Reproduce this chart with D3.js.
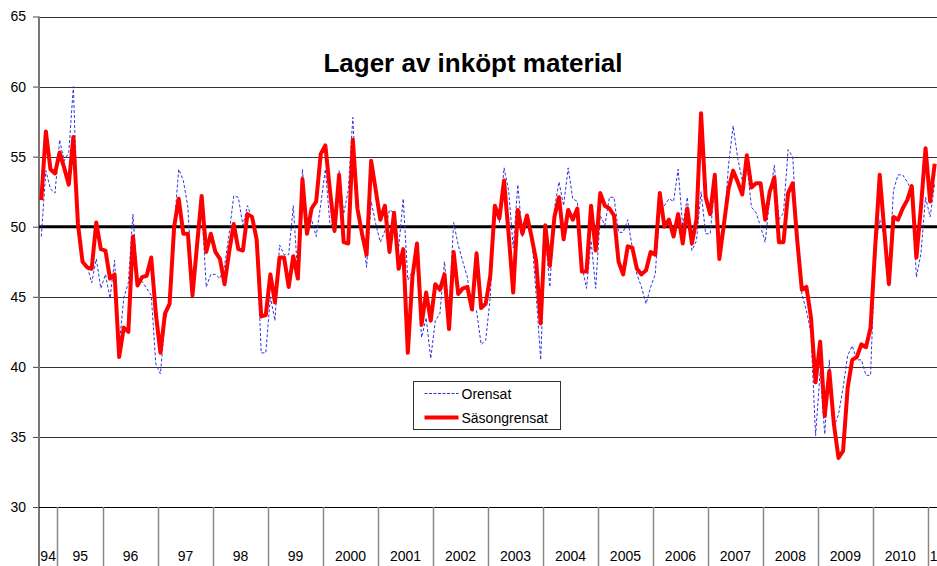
<!DOCTYPE html>
<html>
<head>
<meta charset="utf-8">
<script src="https://cdn.jsdelivr.net/npm/d3@7"></script>
<style>
  body { margin: 0; background: #fff; }
  svg { display: block; font-family: "Liberation Sans", Arial, sans-serif; }
</style>
</head>
<body>
<svg id="chart" width="937" height="566"></svg>
<script>
// year groups on the category axis (first and last are partial)
const yearLabels = ['94', '95', '96', '97', '98', '99', '2000', '2001', '2002', '2003',
    '2004', '2005', '2006', '2007', '2008', '2009', '2010', '1']
const yearMonths = [4, 10, 12, 12, 12, 12, 12, 12, 12, 12, 12, 12, 12, 12, 12, 12, 12, 2]

const yTicks = [30, 35, 40, 45, 50, 55, 60, 65]

// Orensat (unadjusted), monthly
const orensat = [
    49.3, 54.0, 52.7, 52.4, 56.2, 54.7, 55.3, 60.0, 50.0, 47.5, 47.2, 46.0, 47.7, 45.6,
    46.6, 44.9, 47.6, 41.5, 44.9, 46.0, 50.9, 46.2, 46.1, 45.6, 45.1, 40.2, 39.5, 43.3,
    44.5, 50.0, 54.1, 53.3, 51.4, 45.2, 48.0, 51.5, 45.7, 46.6, 46.6, 46.3, 47.2, 49.5,
    52.2, 52.1, 50.1, 51.5, 50.6, 49.0, 41.0, 41.0, 45.0, 43.3, 48.7, 48.0, 48.0, 51.5,
    46.4, 54.1, 49.9, 50.5, 49.3, 51.6, 54.1, 50.2, 50.0, 54.0, 50.9, 52.6, 57.8, 50.9,
    49.7, 47.1, 51.8, 50.2, 48.9, 49.7, 51.2, 51.0, 48.5, 52.0, 46.2, 46.8, 47.2, 42.1,
    43.5, 40.6, 43.3, 43.8, 47.5, 44.0, 50.3, 48.7, 47.5, 46.4, 44.0, 44.0, 41.6, 41.9,
    45.0, 51.4, 50.3, 54.2, 52.6, 48.5, 53.0, 49.3, 50.3, 49.5, 45.2, 40.5, 49.5, 45.7,
    51.3, 53.2, 51.5, 54.2, 52.0, 51.8, 47.2, 45.6, 49.0, 45.6, 50.8, 50.1, 52.1, 52.1,
    49.6, 49.6, 50.5, 48.5, 46.6, 45.7, 44.5, 45.7, 46.6, 51.3, 51.5, 52.0, 51.8, 54.1,
    50.0, 52.1, 48.3, 49.0, 52.5, 49.5, 49.5, 53.0, 49.3, 50.0, 54.4, 57.2, 54.9, 53.3,
    54.5, 51.4, 51.0, 50.0, 48.9, 52.1, 54.4, 50.5, 51.0, 55.5, 55.0, 49.5, 45.2, 44.0,
    42.4, 35.1, 39.7, 35.2, 40.5, 35.7, 36.6, 38.5, 40.8, 41.5, 40.5, 40.5, 39.4, 39.4,
    48.3, 50.5, 49.3, 46.8, 52.6, 53.7, 53.7, 53.2, 52.6, 46.4, 48.1, 52.1, 50.7, 53.1
]

// Säsongrensat (seasonally adjusted), monthly
const sasongrensat = [
    51.9, 56.8, 54.1, 53.8, 55.3, 54.2, 53.0, 56.4, 50.2, 47.5, 47.1, 47.0, 50.3, 48.4,
    48.3, 46.3, 46.6, 40.7, 42.8, 42.5, 49.3, 45.8, 46.4, 46.5, 47.8, 43.8, 41.0, 43.8,
    44.5, 50.0, 52.0, 49.5, 49.5, 45.1, 48.7, 52.2, 48.2, 49.5, 48.2, 47.7, 45.9, 48.2,
    50.2, 48.4, 48.3, 50.9, 50.7, 49.1, 43.6, 43.7, 46.6, 44.6, 47.8, 47.8, 45.7, 47.9,
    46.3, 53.4, 49.5, 51.3, 51.8, 55.2, 55.8, 52.6, 49.7, 53.7, 48.9, 48.8, 56.2, 51.3,
    49.5, 48.0, 54.7, 52.6, 50.5, 51.5, 48.2, 51.0, 47.0, 48.4, 41.0, 46.4, 48.8, 43.0,
    45.3, 43.3, 45.9, 45.5, 46.6, 42.7, 48.2, 45.2, 45.6, 45.7, 44.1, 48.1, 44.2, 44.5,
    46.5, 51.5, 50.6, 53.3, 49.5, 45.3, 51.2, 49.5, 50.8, 49.3, 47.6, 43.1, 50.1, 47.2,
    50.7, 52.1, 49.1, 51.2, 50.5, 51.3, 46.8, 46.8, 51.5, 48.3, 52.4, 51.5, 51.3, 50.8,
    47.5, 46.6, 48.6, 48.5, 47.0, 46.6, 46.9, 48.2, 48.0, 52.4, 50.0, 50.5, 49.3, 50.9,
    48.8, 51.3, 48.8, 50.5, 58.1, 52.1, 50.9, 53.7, 47.7, 50.2, 52.7, 54.0, 53.2, 52.3,
    55.1, 52.8, 53.1, 53.1, 50.5, 52.5, 53.5, 48.9, 48.9, 52.4, 53.1, 49.0, 45.5, 45.7,
    43.5, 38.9, 41.8, 36.5, 39.7, 35.9, 33.5, 34.0, 38.5, 40.5, 40.7, 41.6, 41.4, 42.8,
    48.5, 53.7, 49.7, 45.9, 50.7, 50.5, 51.3, 51.9, 52.9, 47.8, 51.4, 55.6, 51.8, 54.5
]

const width = 937,
    height = 566,
    margin = { top: 16.5, right: 0, bottom: 59, left: 39 }

// one category per month, grouped by year label
let months = []
yearLabels.forEach((y, k) => {
    for (let m = 0; m < yearMonths[k]; m++) months.push(y + '-' + m)
})

const svg = d3.select('#chart')

const x = d3.scaleBand()
    .domain(months)
    .range([margin.left, width - margin.right])
const xc = (i) => x(months[i]) + x.bandwidth() / 2

const y = d3.scaleLinear()
    .domain([30, 65])
    .range([height - margin.bottom, margin.top])

// gridlines
svg.append('g')
    .selectAll('line')
    .data(yTicks.filter(t => t !== 50 && t !== 30))
    .enter()
    .append('line')
    .attr('x1', margin.left)
    .attr('x2', width)
    .attr('y1', d => Math.round(y(d)) + 0.5)
    .attr('y2', d => Math.round(y(d)) + 0.5)
    .attr('stroke', '#333')
    .attr('stroke-width', 1)

// y axis
const yAxis = svg.append('g')
    .attr('transform', `translate(${margin.left},0)`)
    .call(d3.axisLeft(y).tickValues(yTicks).tickSize(6).tickPadding(7))
yAxis.select('.domain').remove()
yAxis.selectAll('.tick line').attr('stroke', '#444')
yAxis.selectAll('.tick text')
    .attr('font-family', '"Liberation Sans", Arial, sans-serif')
    .attr('font-size', 14)
    .attr('fill', '#000')

svg.append('line')
    .attr('x1', margin.left).attr('x2', margin.left)
    .attr('y1', margin.top).attr('y2', height)
    .attr('stroke', '#777')
    .attr('stroke-width', 2)

// x axis line and year group separators
svg.append('line')
    .attr('x1', margin.left).attr('x2', width)
    .attr('y1', Math.round(y(30)) + 0.5).attr('y2', Math.round(y(30)) + 0.5)
    .attr('stroke', '#000')

let start = 0
const groups = yearLabels.map((lab, k) => {
    const g = { label: lab, first: start, last: start + yearMonths[k] - 1 }
    start += yearMonths[k]
    return g
})

svg.append('g')
    .selectAll('line')
    .data(groups.slice(1))
    .enter()
    .append('line')
    .attr('x1', d => Math.round(x(months[d.first])) + 0.5)
    .attr('x2', d => Math.round(x(months[d.first])) + 0.5)
    .attr('y1', y(30))
    .attr('y2', height)
    .attr('stroke', '#888')
    .attr('stroke-width', 1.5)

svg.append('g')
    .selectAll('text')
    .data(groups)
    .enter()
    .append('text')
    .attr('x', d => {
        const x0 = x(months[d.first]), x1 = x(months[d.last]) + x.bandwidth()
        return d.label === '1' ? x0 + 2 : (x0 + x1) / 2
    })
    .attr('y', 561)
    .attr('text-anchor', d => d.label === '1' ? 'start' : 'middle')
    .attr('font-size', 14)
    .text(d => d.label)

// reference line at 50
svg.append('line')
    .attr('x1', margin.left).attr('x2', width)
    .attr('y1', y(50)).attr('y2', y(50))
    .attr('stroke', '#000')
    .attr('stroke-width', 3)

// series
const line = d3.line()
    .x((d, i) => xc(i))
    .y(d => y(d))

svg.append('path')
    .datum(orensat)
    .attr('d', line)
    .attr('fill', 'none')
    .attr('stroke', '#3333dd')
    .attr('stroke-width', 1)
    .attr('stroke-dasharray', '3,2')

svg.append('path')
    .datum(sasongrensat)
    .attr('d', line)
    .attr('fill', 'none')
    .attr('stroke', '#ff0000')
    .attr('stroke-width', 4)
    .attr('stroke-linejoin', 'round')

// title
svg.append('text')
    .attr('x', 473)
    .attr('y', 72)
    .attr('text-anchor', 'middle')
    .attr('font-size', 26)
    .attr('font-weight', 'bold')
    .text('Lager av inköpt material')

// legend
const legend = svg.append('g').attr('transform', 'translate(413.5,381.5)')
legend.append('rect')
    .attr('width', 147).attr('height', 48)
    .attr('fill', '#fff')
    .attr('stroke', '#333')
legend.append('line')
    .attr('x1', 11).attr('x2', 45).attr('y1', 12).attr('y2', 12)
    .attr('stroke', '#3333dd').attr('stroke-dasharray', '3,1.5')
legend.append('text')
    .attr('x', 48).attr('y', 17.5)
    .attr('font-size', 14)
    .text('Orensat')
legend.append('line')
    .attr('x1', 11).attr('x2', 45).attr('y1', 36).attr('y2', 36)
    .attr('stroke', '#ff0000').attr('stroke-width', 4)
legend.append('text')
    .attr('x', 48).attr('y', 41.5)
    .attr('font-size', 14)
    .text('Säsongrensat')
</script>
</body>
</html>
